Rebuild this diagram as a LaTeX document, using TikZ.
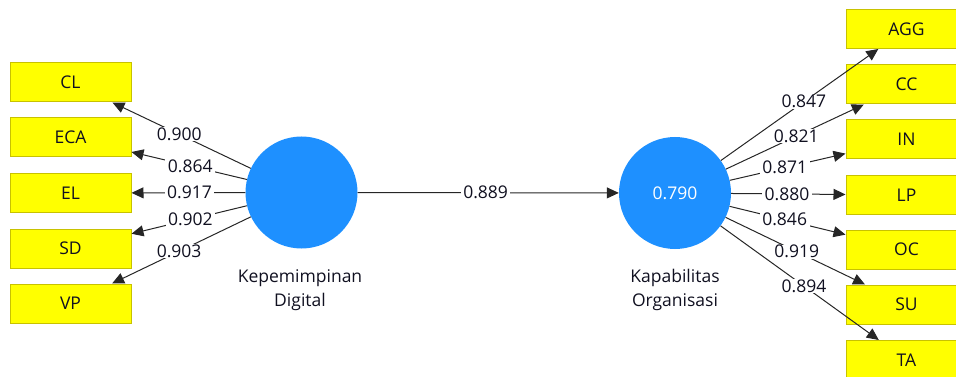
\documentclass[tikz,border=0pt]{standalone}
\usepackage{fontspec}
\setmainfont{Open Sans}
\usetikzlibrary{arrows.meta}
\definecolor{boxfill}{HTML}{FFFF00}
\definecolor{boxline}{HTML}{C8C200}
\definecolor{lvblue}{HTML}{1E90FF}
\definecolor{txt}{HTML}{101020}
\tikzset{
  ind/.style={draw=boxline, line width=1pt, fill=boxfill, minimum width=121pt, minimum height=39pt, inner sep=0pt, font=\fontsize{17.5}{20}\selectfont, text=txt},
  lv/.style={circle, fill=lvblue, minimum size=112pt, inner sep=0pt, font=\fontsize{17.5}{20}\selectfont, text=white},
  lvname/.style={align=center, font=\fontsize{17.5}{23.5}\selectfont, text=txt},
  conn/.style={draw=black!85, line width=1pt, -{Triangle[length=12pt,width=11pt]}},
  wt/.style={fill=white, inner xsep=2.5pt, inner ysep=0.5pt, font=\fontsize{17.5}{20}\selectfont, text=txt}
}
\begin{document}
\begin{tikzpicture}[x=1pt,y=-1pt]
\useasboundingbox (0,0) rectangle (956,377);
\clip (0,0) rectangle (956,377);
% left indicators
\node[ind] (CL)  at (70.5,82.5)  {CL};
\node[ind] (ECA) at (70.5,137.5) {ECA};
\node[ind] (EL)  at (70.5,193)   {EL};
\node[ind] (SD)  at (70.5,248.5) {SD};
\node[ind] (VP)  at (70.5,303.5) {VP};
% right indicators
\node[ind] (AGG) at (906.5,29)    {AGG};
\node[ind] (CC)  at (906.5,84.5)  {CC};
\node[ind] (IN)  at (906.5,139.5) {IN};
\node[ind] (LP)  at (906.5,195)   {LP};
\node[ind] (OC)  at (906.5,249.5) {OC};
\node[ind] (SU)  at (906.5,304.5) {SU};
\node[ind] (TA)  at (906.5,360)   {TA};
% latent variables
\node[lv] (KD) at (301.5,192.5) {};
\node[lv] (KO) at (675,193) {0.790};
\node[lvname] (KDn) at (300,290) {Kepemimpinan\\Digital};
\node[lvname] (KOn) at (675,290) {Kapabilitas\\Organisasi};
% outer loadings left
\draw[conn] (KD) -- node[wt, pos=0.517] {0.900} (CL);
\draw[conn] (KD) -- node[wt, pos=0.49] {0.864} (ECA);
\draw[conn] (KD) -- node[wt, pos=0.49] {0.917} (EL);
\draw[conn] (KD) -- node[wt, pos=0.49] {0.902} (SD);
\draw[conn] (KD) -- node[wt, pos=0.517] {0.903} (VP);
% path
\draw[conn] (KD) -- node[wt, pos=0.49] {0.889} (KO);
% outer loadings right
\draw[conn] (KO) -- node[wt, pos=0.527] {0.847} (AGG);
\draw[conn] (KO) -- node[wt, pos=0.51] {0.821} (CC);
\draw[conn] (KO) -- node[wt, pos=0.475] {0.871} (IN);
\draw[conn] (KO) -- node[wt, pos=0.488] {0.880} (LP);
\draw[conn] (KO) -- node[wt, pos=0.475] {0.846} (OC);
\draw[conn] (KO) -- node[wt, pos=0.51] {0.919} (SU);
\draw[conn] (KO) -- node[wt, pos=0.527] {0.894} (TA);
\end{tikzpicture}
\end{document}
